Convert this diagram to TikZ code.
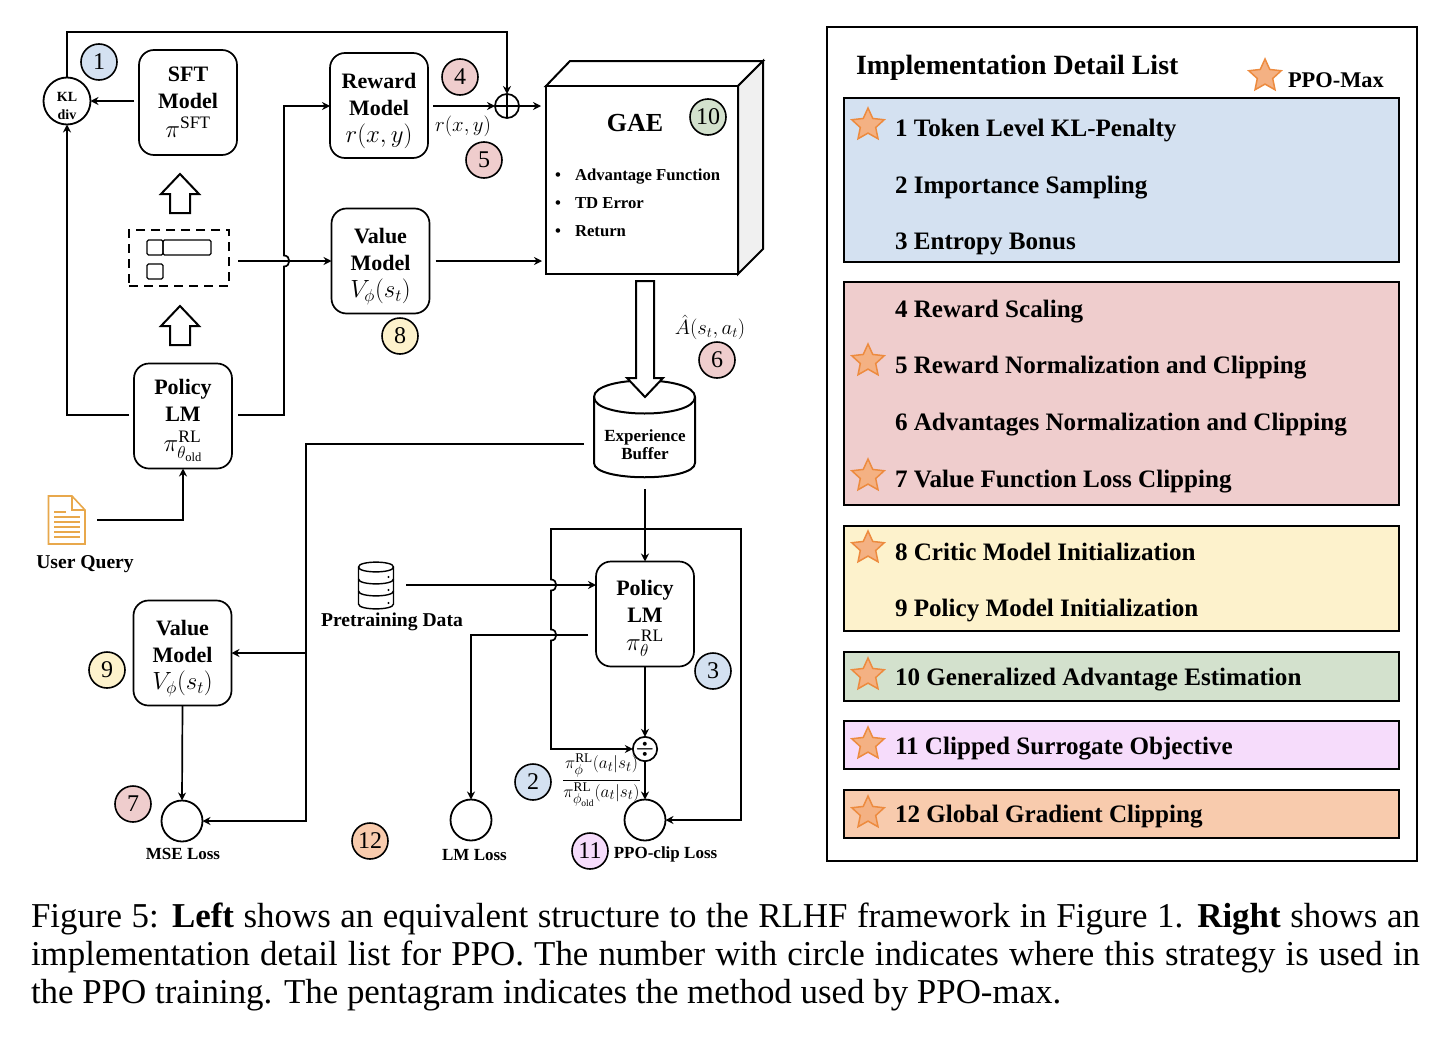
\documentclass[tikz,border=0pt]{standalone}
\usepackage{amsmath}
\usepackage{fontspec}
\setmainfont{Liberation Serif}
\usetikzlibrary{arrows.meta,shapes.geometric,calc}
\definecolor{cblue}{HTML}{D4E1F1}
\definecolor{cred}{HTML}{EFCDCD}
\definecolor{cyellow}{HTML}{FDF2CC}
\definecolor{cgreen}{HTML}{D3E1CD}
\definecolor{cpurple}{HTML}{F6DCFB}
\definecolor{corange}{HTML}{F8CBAD}
\definecolor{starfill}{HTML}{F4B183}
\definecolor{stardraw}{HTML}{ED8B3F}
\definecolor{docline}{HTML}{E8A84C}
\newcommand{\fs}[1]{\fontsize{#1}{#1}\selectfont}
\newcommand{\mth}[1]{{\fontsize{25}{25}\selectfont$#1$}}
\newcommand{\pad}[1]{\rule{0pt}{#1pt}}
\tikzset{
  every node/.style={inner sep=0pt,outer sep=0pt},
  ln/.style={line width=1.7pt,draw=black},
  arr/.style={ln,-{Stealth[length=8pt,width=8pt]}},
  modelbox/.style={draw,line width=1.7pt,rounded corners=15pt,fill=white,
    minimum width=98pt,minimum height=105pt,align=center,
    font=\fontsize{22}{27}\selectfont\bfseries},
  badge/.style={circle,draw,line width=1.6pt,minimum size=36pt,font=\fs{24}},
  losscirc/.style={circle,draw,line width=1.8pt,minimum size=41pt,fill=white},
  opcirc/.style={circle,draw,line width=1.7pt,minimum size=24pt,fill=white},
  smalllabel/.style={font=\fs{17}\bfseries},
  midlabel/.style={font=\fs{19.6}\bfseries},
  gaeitem/.style={font=\fs{16.7}\bfseries,text height=11pt,text depth=4pt},
  panel/.style={draw,line width=2pt,anchor=north west},
  item/.style={anchor=west,font=\fs{25.1}\bfseries,text height=16pt,text depth=5pt},
  ministar/.style={star,star points=5,star point ratio=2.1,minimum size=34pt,fill=starfill,draw=stardraw,line width=1.5pt},
  hollow/.style={draw,line width=2pt,fill=white,line join=miter},
  capline/.style={anchor=base west,font=\fs{34.9}},
}
\begin{document}
\begin{tikzpicture}[x=1pt,y=-1pt]
\useasboundingbox (0,0) rectangle (1450,1036);
\fill[white] (0,0) rectangle (1450,1036);

% ---- model boxes
\node[modelbox] (sft) at (188,102.5) {SFT\\Model\\[2pt]\mth{\pi^{\mathrm{SFT}}}};
\node[modelbox] (reward) at (379,105.5) {\pad{26}Reward\\Model\\\mth{r(x,y)}};
\node[modelbox] (value) at (380.5,261) {\pad{26}Value\\Model\\\mth{V_{\phi}(s_t)}};
\node[modelbox] (policyold) at (183,416) {\pad{24}Policy\\LM\\[3pt]\mth{\pi^{\mathrm{RL}}_{\theta_{\mathrm{old}}}}};
\node[modelbox] (policy) at (645,614) {\pad{24}Policy\\LM\\[1pt]\mth{\pi^{\mathrm{RL}}_{\theta}}};
\node[modelbox] (valuetwo) at (182.5,653) {\pad{26}Value\\Model\\\mth{V_{\phi}(s_t)}};

\node[circle,draw,line width=1.8pt,minimum size=47pt,fill=white,align=center,font=\fontsize{14}{18}\selectfont\bfseries] (kl) at (67,101) {\pad{20}KL\\div};
\node[opcirc] (plus) at (507,106) {};
\draw[line width=1.5pt] (plus.north) -- (plus.south) (plus.west) -- (plus.east);
\node[opcirc,font=\fs{22}] (div) at (645,749) {$\boldsymbol{\div}$};
\node[losscirc] (mse) at (182,821) {};
\node[losscirc] (lm) at (471,820) {};
\node[losscirc] (ppo) at (645,820) {};

% ---- dashed state box
\node[draw,dashed,dash pattern=on 9pt off 6pt,line width=2pt,minimum width=100pt,minimum height=56pt] (state) at (179,258) {};
\draw[line width=1.4pt,rounded corners=1.5pt] (147,240) rectangle (163,255);
\draw[line width=1.4pt,rounded corners=1.5pt] (163,240) rectangle (211,255);
\draw[line width=1.4pt,rounded corners=1.5pt] (147,264) rectangle (163,279);

% ---- hollow up arrows
\draw[hollow] (180,174) -- (199,194) -- (190,194) -- (190,213) -- (170,213) -- (170,194) -- (161,194) -- cycle;
\draw[hollow] (180,306) -- (199,326) -- (190,326) -- (190,345) -- (170,345) -- (170,326) -- (161,326) -- cycle;

% ---- GAE cube
\draw[line width=2pt,fill=white,line join=miter] (546,86) -- (570,61) -- (763,61) -- (738,86) -- cycle;
\draw[line width=2pt,fill=black!6,line join=miter] (738,86) -- (763,61) -- (763,249) -- (738,274) -- cycle;
\node[draw,line width=2pt,fill=white,minimum width=192pt,minimum height=188pt,anchor=north west] (gae) at (546,86) {};
\node[font=\fs{26}\bfseries] (gaetitle) at (635,123) {GAE};
\foreach \nm/\yy/\tx in {a/177/Advantage Function,b/205/TD Error,c/233/Return}{
  \node[anchor=west,gaeitem] (gae\nm) at (575,\yy) {\tx};
  \node[gaeitem] (bul\nm) at (558,\yy) {•};
}

% ---- experience buffer
\draw[line width=2pt,fill=white] (594,397) .. controls (594,375) and (695,375) .. (695,397)
  -- (695,463) .. controls (695,482) and (594,482) .. (594,463) -- cycle;
\draw[line width=2pt] (594,397) .. controls (594,419) and (695,419) .. (695,397);
\node[align=center,font=\fontsize{17}{18}\selectfont\bfseries] (buffer) at (645,445) {Experience\\Buffer};

% ---- hollow arrow GAE to buffer
\draw[hollow] (636,281) -- (654,281) -- (654,378) -- (663,378) -- (645,397) -- (627,378) -- (636,378) -- cycle;

% ---- user query document
\draw[line width=1.6pt,draw=docline,fill=white,line join=miter] (48.5,496) -- (72,496) -- (85,510) -- (85,544) -- (48.5,544) -- cycle;
\draw[line width=1.3pt,draw=docline] (72,496) -- (72,510) -- (85,510);
\foreach \yy/\xa in {512/66,517/80,522/80,527/80,532/80,537/80}{\draw[line width=1.2pt,draw=docline] (54,\yy) -- (\xa,\yy);}
\coordinate (doc) at (97,520);
\node[midlabel] (uq) at (85,564) {User Query};

% ---- database icon
\draw[line width=1.4pt,fill=white] (358.5,567) .. controls (358.5,560.5) and (393.5,560.5) .. (393.5,567)
  -- (393.5,604) .. controls (393.5,610.5) and (358.5,610.5) .. (358.5,604) -- cycle;
\foreach \ty in {567,579,591}{
  \draw[line width=1.4pt] (358.5,\ty) .. controls (358.5,\ty+6.5) and (393.5,\ty+6.5) .. (393.5,\ty);
}
\foreach \ty in {577,590,603}{\fill (388.5,\ty) circle (1.2pt);}
\coordinate (db) at (406,585);
\node[midlabel] (pre) at (392,622) {Pretraining Data};

% ---- labels
\node[smalllabel] (lmse) at (183,854) {MSE Loss};
\node[smalllabel] (llm) at (474.5,855) {LM Loss};
\node[smalllabel] (lppo) at (665.5,854) {PPO-clip Loss};
\node[font=\fs{22.5}] (rxy) at (463,126) {$r(x,y)$};
\node[font=\fs{22}] (ahat) at (710,327) {$\hat{A}(s_t,a_t)$};
\node[font=\fs{19}] (ratio) at (601.5,780) {$\dfrac{\pi^{\mathrm{RL}}_{\phi}(a_t|s_t)}{\pi^{\mathrm{RL}}_{\phi_{\mathrm{old}}}(a_t|s_t)}$};

% ---- badges
\node[badge,fill=cblue] (b1) at (99,62) {1};
\node[badge,fill=cblue] (b2) at (533,782) {2};
\node[badge,fill=cblue] (b3) at (713,671) {3};
\node[badge,fill=cred] (b4) at (460,77) {4};
\node[badge,fill=cred] (b5) at (484,160) {5};
\node[badge,fill=cred] (b6) at (717,360) {6};
\node[badge,fill=cred] (b7) at (133,804) {7};
\node[badge,fill=cyellow] (b8) at (400,336) {8};
\node[badge,fill=cyellow] (b9) at (107,670) {9};
\node[badge,fill=cgreen] (b10) at (708,117) {10};
\node[badge,fill=cpurple] (b11) at (590,851) {11};
\node[badge,fill=corange] (b12) at (370,841) {12};

% ---- connectors
\coordinate (tl) at (67,32);
\coordinate (tr) at (507,32);
\draw[arr] (kl.north) -- (tl) -- (tr) -- (plus.north);
\draw[arr,shorten <=5pt] (sft.west |- kl.east) -- (kl.east);
\draw[arr,shorten <=5pt] (reward.east |- plus.west) -- (plus.west);
\draw[arr,shorten >=5pt] (plus.east) -- (plus.east -| gae.west);
\coordinate (polleft) at (129,415);
\draw[arr] (polleft) -| (kl.south);
% policy to reward, hopping over the state line
\coordinate (polright) at (238,415);
\draw[arr,line join=miter] (polright) -- (284,415) -- (284,266.5)
  .. controls (291,266.5) and (291,255.5) .. (284,255.5) -- (284,106) -- (reward.west |- plus.west);
\coordinate (stateout) at (238,261);
\draw[arr] (stateout) -- (value.west);
\draw[arr,shorten <=6pt,shorten >=4pt] (value.east) -- (gae.west |- value.east);
\coordinate (querybend) at (183,520);
\draw[arr] (doc) -- (querybend) -- (policyold.south);
% buffer outputs
\coordinate (bl) at (584,444);
\coordinate (bbot) at (645,489);
\draw[arr] (bl) -- (306,444) -- (306,821) -- (mse.east);
\coordinate (branch) at (306,653);
\draw[arr] (branch) -- (valuetwo.east);
\draw[arr] (bbot) -- (policy.north);
\draw[arr] (valuetwo.south) -- (mse.north);
% pretraining
\draw[arr] (db) -- (policy.west |- db);
% policy to LM loss
\coordinate (pout) at (588,635);
\draw[arr] (pout) -- (471,635) -- (lm.north);
% policy to div, div to ppo
\draw[arr] (policy.south) -- (div.north);
\draw[arr] (div.south) -- (ppo.north);
% loop from ppo to div with hops
\draw[ln,{Stealth[length=8pt,width=8pt]}-{Stealth[length=8pt,width=8pt]}]
  (ppo.east) -- (741,820) -- (741,529) -- (551,529) -- (551,579.5)
  .. controls (558,579.5) and (558,590.5) .. (551,590.5) -- (551,629.5)
  .. controls (558,629.5) and (558,640.5) .. (551,640.5) -- (551,749) -- (div.west);

% ---- right panel
\node[draw,line width=2pt,minimum width=590pt,minimum height=834pt,anchor=north west] (frame) at (827,27) {};
\node[anchor=west,font=\fs{27.9}\bfseries] (title) at (856,68) {Implementation Detail List};
\node[ministar] (legstar) at (1265,76) {};
\node[anchor=west,font=\fs{22.4}\bfseries] (legend) at (1288,80) {PPO-Max};
\node[panel,fill=cblue,minimum width=555pt,minimum height=164pt] (p1) at (844,98) {};
\node[panel,fill=cred,minimum width=555pt,minimum height=223pt] (p2) at (844,282) {};
\node[panel,fill=cyellow,minimum width=555pt,minimum height=105pt] (p3) at (844,526) {};
\node[panel,fill=cgreen,minimum width=555pt,minimum height=49pt] (p4) at (844,652) {};
\node[panel,fill=cpurple,minimum width=555pt,minimum height=48pt] (p5) at (844,721) {};
\node[panel,fill=corange,minimum width=555pt,minimum height=48pt] (p6) at (844,790) {};
\node[item] (i1) at (895,131) {1 Token Level KL-Penalty};
\node[item] (i2) at (895,188) {2 Importance Sampling};
\node[item] (i3) at (895,244) {3 Entropy Bonus};
\node[item] (i4) at (895,312) {4 Reward Scaling};
\node[item] (i5) at (895,368) {5 Reward Normalization and Clipping};
\node[item] (i6) at (895,425) {6 Advantages Normalization and Clipping};
\node[item] (i7) at (895,482) {7 Value Function Loss Clipping};
\node[item] (i8) at (895,555) {8 Critic Model Initialization};
\node[item] (i9) at (895,611) {9 Policy Model Initialization};
\node[item] (i10) at (895,680) {10 Generalized Advantage Estimation};
\node[item] (i11) at (895,749) {11 Clipped Surrogate Objective};
\node[item] (i12) at (895,817) {12 Global Gradient Clipping};
\node[ministar] (s1) at (868,125) {};
\node[ministar] (s5) at (868,361) {};
\node[ministar] (s7) at (868,476) {};
\node[ministar] (s8) at (868,548) {};
\node[ministar] (s10) at (868,675) {};
\node[ministar] (s11) at (868,744) {};
\node[ministar] (s12) at (868,813) {};

% ---- caption
\node[capline] (c1) at (31,927) {\makebox[1389pt][s]{Figure 5: \textbf{Left} shows an equivalent structure to the RLHF framework in Figure 1. \textbf{Right} shows an}};
\node[capline] (c2) at (31,965) {\makebox[1389pt][s]{implementation detail list for PPO. The number with circle indicates where this strategy is used in}};
\node[capline] (c3) at (31,1003) {the PPO training. The pentagram indicates the method used by PPO-max.};
\end{tikzpicture}
\end{document}
